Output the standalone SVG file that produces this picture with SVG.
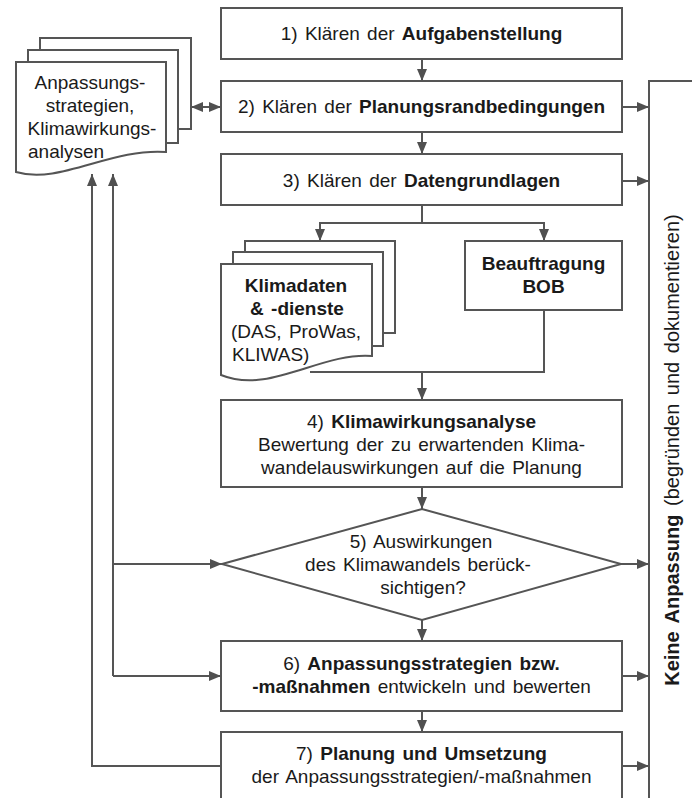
<svg xmlns="http://www.w3.org/2000/svg" width="692" height="798" viewBox="0 0 692 798">
<defs>
<marker id="ah" viewBox="0 0 12 10" refX="12" refY="5" markerWidth="12" markerHeight="10" markerUnits="userSpaceOnUse" orient="auto-start-reverse"><path d="M0,0 L12,5 L0,10 z" fill="#505050"/></marker>
</defs>
<style>
.box{fill:#fff;stroke:#555;stroke-width:2}
.ln{fill:none;stroke:#555;stroke-width:2}
.arr{fill:none;stroke:#555;stroke-width:2;marker-end:url(#ah)}
text{font-family:"Liberation Sans",Arial,sans-serif;font-size:19px;fill:#1a1a1a;word-spacing:2px}
.c{text-anchor:middle}
.b{font-weight:bold}
</style>
<rect width="692" height="798" fill="#fff"/>

<g id="connectors">
<path class="arr" d="M422,59 V81"/>
<path class="arr" d="M422,132 V154"/>
<path class="arr" d="M422,205 V223 H544 V241"/>
<path class="arr" d="M422,223 H320 V241"/>
<path class="ln" d="M544,310 V372 H310"/>
<path class="arr" d="M422,372 V400"/>
<path class="arr" d="M422,487 V509"/>
<path class="arr" d="M422,620 V641"/>
<path class="arr" d="M422,711 V732"/>
<path class="arr" d="M191,107 H221" marker-start="url(#ah)"/>
<path class="arr" d="M622,107 H649"/>
<path class="arr" d="M622,181 H649"/>
<path class="arr" d="M621,564 H649"/>
<path class="arr" d="M622,676 H649"/>
<path class="arr" d="M622,766 H649"/>
<path class="arr" d="M221,766 H92 V174"/>
<path class="arr" d="M113,676 V174"/>
<path class="arr" d="M113,676 H221"/>
<path class="arr" d="M113,564 H222"/>
</g>

<g id="n1">
<rect class="box" x="221" y="8" width="401" height="51"/>
<text class="c" x="421.5" y="40">1) Klären der <tspan class="b">Aufgabenstellung</tspan></text>
</g>
<g id="n2">
<rect class="box" x="221" y="81" width="401" height="51"/>
<text class="c" x="421.5" y="113">2) Klären der <tspan class="b">Planungsrandbedingungen</tspan></text>
</g>
<g id="n3">
<rect class="box" x="221" y="154" width="401" height="51"/>
<text class="c" x="421.5" y="187">3) Klären der <tspan class="b">Datengrundlagen</tspan></text>
</g>

<g id="doc-anpassung">
<rect class="box" x="40" y="38" width="151" height="91"/>
<rect class="box" x="28" y="50" width="150" height="93"/>
<path class="box" d="M16,62 H166 V152 C110,148 60,185 16,172 Z"/>
<text class="c" x="90" y="89">Anpassungs-</text>
<text class="c" x="90" y="112">strategien,</text>
<text class="c" x="92" y="135">Klimawirkungs-</text>
<text x="28" y="158">analysen</text>
</g>

<g id="doc-klimadaten">
<rect class="box" x="245" y="241" width="150" height="92"/>
<rect class="box" x="233" y="252" width="150" height="94"/>
<path class="box" d="M221,264 H372 V356 C320,352 270,395 221,375 Z"/>
<text class="c b" x="296" y="292">Klimadaten</text>
<text class="c b" x="297" y="315">&amp; -dienste</text>
<text class="c" x="296" y="338">(DAS, ProWas,</text>
<text x="232" y="361">KLIWAS)</text>
</g>

<g id="bob">
<rect class="box" x="465" y="241" width="157" height="69"/>
<text class="c b" x="543.5" y="270">Beauftragung</text>
<text class="c b" x="543.5" y="293">BOB</text>
</g>

<g id="n4">
<rect class="box" x="221" y="400" width="401" height="87"/>
<text class="c" x="421.5" y="428">4) <tspan class="b">Klimawirkungsanalyse</tspan></text>
<text class="c" x="421.5" y="451">Bewertung der zu erwartenden Klima-</text>
<text class="c" x="421.5" y="474">wandelauswirkungen auf die Planung</text>
</g>

<g id="n5">
<polygon class="box" points="222,564 422,509 621,564 422,620"/>
<text class="c" x="421" y="548">5) Auswirkungen</text>
<text class="c" x="418" y="571">des Klimawandels berück-</text>
<text class="c" x="423" y="594">sichtigen?</text>
</g>

<g id="n6">
<rect class="box" x="221" y="641" width="401" height="70"/>
<text class="c" x="421.5" y="670">6) <tspan class="b">Anpassungsstrategien bzw.</tspan></text>
<text class="c" x="421.5" y="693"><tspan class="b">-maßnahmen</tspan> entwickeln und bewerten</text>
</g>

<g id="n7">
<rect class="box" x="221" y="732" width="401" height="80"/>
<text class="c" x="421.5" y="760">7) <tspan class="b">Planung und Umsetzung</tspan></text>
<text class="c" x="421.5" y="783">der Anpassungsstrategien/-maßnahmen</text>
</g>

<g id="keine-anpassung">
<path class="ln" d="M694,81 H649 V800"/>
<text class="c" transform="translate(679,450) rotate(-90)" style="font-size:20px;word-spacing:3px"><tspan class="b">Keine Anpassung</tspan> (begründen und dokumentieren)</text>
</g>
</svg>
